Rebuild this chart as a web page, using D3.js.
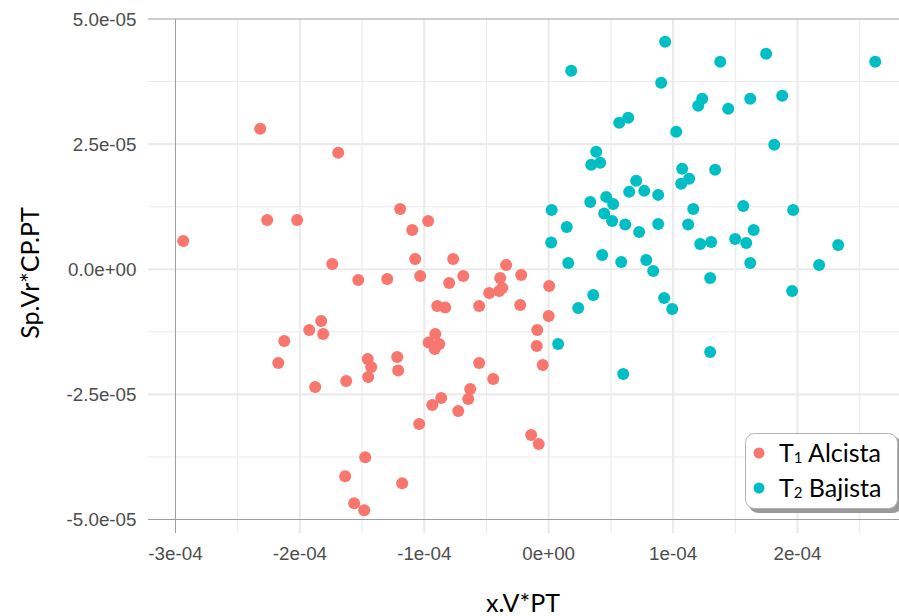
<!DOCTYPE html>
<html>
<head>
<meta charset="utf-8">
<script src="https://cdn.jsdelivr.net/npm/d3@7"></script>
<style>
  html, body { margin: 0; padding: 0; background: #ffffff; }
  svg { display: block; }
</style>
</head>
<body>
<svg id="chart" width="899" height="616"></svg>
<script>
// Group T1 (Alcista)
const alcistaX = [-2.938e-4, -2.319e-4, -1.692e-4, -2.263e-4, -2.022e-4, -1.194e-4, -1.097e-4, -0.969e-4,
  -1.740e-4, -1.531e-4, -1.298e-4, -1.073e-4, -1.033e-4, -0.768e-4, -0.800e-4, -0.896e-4, -0.832e-4,
  -1.829e-4, -1.925e-4, -1.813e-4, -2.126e-4, -2.174e-4, -0.912e-4, -0.965e-4, -0.880e-4, -0.916e-4,
  -1.455e-4, -1.427e-4, -1.451e-4, -1.218e-4, -1.210e-4, -1.628e-4, -1.877e-4, -0.864e-4, -0.936e-4,
  -1.041e-4, -1.475e-4, -1.636e-4, -1.178e-4, -1.564e-4, -1.483e-4, -0.687e-4, -0.342e-4, -0.390e-4,
  -0.221e-4, -0.374e-4, -0.398e-4, -0.478e-4, 0.004e-4, -0.559e-4, -0.229e-4, 0.000e-4, -0.092e-4,
  -0.096e-4, -0.048e-4, -0.559e-4, -0.446e-4, -0.631e-4, -0.647e-4, -0.727e-4, -0.141e-4, -0.080e-4];
const alcistaY = [0.566e-5, 2.806e-5, 2.326e-5, 0.986e-5, 0.986e-5, 1.206e-5, 0.786e-5, 0.966e-5,
  0.106e-5, -0.214e-5, -0.194e-5, 0.206e-5, -0.134e-5, 0.206e-5, -0.274e-5, -0.734e-5, -0.764e-5,
  -1.034e-5, -1.214e-5, -1.294e-5, -1.434e-5, -1.874e-5, -1.294e-5, -1.464e-5, -1.494e-5, -1.594e-5,
  -1.794e-5, -1.954e-5, -2.154e-5, -1.754e-5, -2.024e-5, -2.234e-5, -2.354e-5, -2.574e-5, -2.714e-5,
  -3.094e-5, -3.754e-5, -4.134e-5, -4.274e-5, -4.674e-5, -4.814e-5, -0.134e-5, 0.086e-5, -0.174e-5,
  -0.114e-5, -0.374e-5, -0.434e-5, -0.474e-5, -0.334e-5, -0.734e-5, -0.714e-5, -0.934e-5, -1.214e-5,
  -1.534e-5, -1.914e-5, -1.874e-5, -2.194e-5, -2.394e-5, -2.594e-5, -2.834e-5, -3.314e-5, -3.494e-5];

// Group T2 (Bajista)
const bajistaX = [0.936e-4, 0.181e-4, 1.379e-4, 1.748e-4, 2.625e-4, 0.904e-4, 1.234e-4, 1.202e-4,
  1.443e-4, 1.620e-4, 1.877e-4, 0.639e-4, 0.567e-4, 1.025e-4, 1.813e-4, 0.382e-4, 0.414e-4, 0.342e-4,
  1.073e-4, 1.129e-4, 1.065e-4, 1.338e-4, 0.703e-4, 0.647e-4, 0.768e-4, 0.880e-4, 0.334e-4, 0.462e-4,
  0.518e-4, 0.446e-4, 0.510e-4, 0.615e-4, 0.727e-4, 0.880e-4, 1.162e-4, 1.121e-4, 1.564e-4, 1.648e-4,
  1.965e-4, 0.024e-4, 0.145e-4, 0.020e-4, 0.157e-4, 0.430e-4, 0.583e-4, 0.784e-4, 0.840e-4, 1.218e-4,
  1.306e-4, 1.499e-4, 1.588e-4, 1.620e-4, 2.174e-4, 2.327e-4, 1.298e-4, 1.957e-4, 0.358e-4, 0.237e-4,
  0.928e-4, 0.993e-4, 0.076e-4, 1.298e-4, 0.599e-4];
const bajistaY = [4.546e-5, 3.966e-5, 4.146e-5, 4.306e-5, 4.146e-5, 3.726e-5, 3.406e-5, 3.266e-5,
  3.206e-5, 3.406e-5, 3.466e-5, 3.026e-5, 2.926e-5, 2.746e-5, 2.486e-5, 2.346e-5, 2.126e-5, 2.086e-5,
  2.006e-5, 1.806e-5, 1.706e-5, 1.986e-5, 1.766e-5, 1.546e-5, 1.566e-5, 1.486e-5, 1.346e-5, 1.446e-5,
  1.306e-5, 1.116e-5, 0.966e-5, 0.896e-5, 0.746e-5, 0.906e-5, 1.206e-5, 0.896e-5, 1.266e-5, 0.786e-5,
  1.186e-5, 1.186e-5, 0.846e-5, 0.536e-5, 0.126e-5, 0.286e-5, 0.146e-5, 0.186e-5, -0.034e-5, 0.506e-5,
  0.546e-5, 0.606e-5, 0.526e-5, 0.126e-5, 0.086e-5, 0.486e-5, -0.174e-5, -0.434e-5, -0.514e-5, -0.774e-5,
  -0.574e-5, -0.794e-5, -1.494e-5, -1.654e-5, -2.094e-5];

const xTicks = [-3e-4, -2e-4, -1e-4, 0, 1e-4, 2e-4];
const xTickLabels = ["-3e-04", "-2e-04", "-1e-04", "0e+00", "1e-04", "2e-04"];
const xMinor = [-2.5e-4, -1.5e-4, -0.5e-4, 0.5e-4, 1.5e-4, 2.5e-4];
const yTicks = [-5e-5, -2.5e-5, 0, 2.5e-5, 5e-5];
const yTickLabels = ["-5.0e-05", "-2.5e-05", "0.0e+00", "2.5e-05", "5.0e-05"];
const yMinor = [-3.75e-5, -1.25e-5, 1.25e-5, 3.75e-5];

const seriesNames = ["Alcista", "Bajista"];
const seriesSubs = ["1", "2"];
const seriesColors = ["#F8766D", "#00BFC4"];

const svg = d3.select("#chart");
const panel = { left: 148, right: 899, top: 19, bottom: 533 };

const x = d3.scaleLinear().domain([-3e-4, 2e-4]).range([175.5, 797.5]);
const y = d3.scaleLinear().domain([-5e-5, 5e-5]).range([519.5, 19]);

const grid = svg.append("g");
// minor grid
grid.selectAll(".xminor").data(xMinor).enter().append("line")
  .attr("x1", d => x(d)).attr("x2", d => x(d))
  .attr("y1", panel.top).attr("y2", panel.bottom)
  .attr("stroke", "#ebebeb").attr("stroke-width", 1.1);
grid.selectAll(".yminor").data(yMinor).enter().append("line")
  .attr("y1", d => y(d)).attr("y2", d => y(d))
  .attr("x1", panel.left).attr("x2", panel.right)
  .attr("stroke", "#ebebeb").attr("stroke-width", 1.1);
// major grid
grid.selectAll(".xmajor").data(xTicks.slice(1)).enter().append("line")
  .attr("x1", d => x(d)).attr("x2", d => x(d))
  .attr("y1", panel.top).attr("y2", panel.bottom)
  .attr("stroke", "#ebebeb").attr("stroke-width", 2.2);
grid.selectAll(".ymajor").data(yTicks.slice(1, 4)).enter().append("line")
  .attr("y1", d => y(d)).attr("y2", d => y(d))
  .attr("x1", panel.left).attr("x2", panel.right)
  .attr("stroke", "#ebebeb").attr("stroke-width", 2.2);

// reference lines at the panel limits
const refs = svg.append("g").attr("stroke", "#9e9e9e").attr("stroke-width", 1);
refs.append("line").attr("x1", x(-3e-4)).attr("x2", x(-3e-4))
  .attr("y1", panel.top).attr("y2", panel.bottom);
[5e-5, -5e-5].forEach(v => {
  refs.append("line").attr("x1", panel.left).attr("x2", panel.right)
    .attr("y1", y(v)).attr("y2", y(v));
});

// tick labels
const tickFont = "'Liberation Sans', Arial, sans-serif";
svg.append("g").selectAll("text").data(yTicks).enter().append("text")
  .attr("x", 136.5).attr("y", d => y(d)).attr("dy", "0.36em")
  .attr("text-anchor", "end")
  .attr("font-family", tickFont).attr("font-size", 18.8).attr("fill", "#4d4d4d")
  .text((d, i) => yTickLabels[i]);
svg.append("g").selectAll("text").data(xTicks).enter().append("text")
  .attr("x", d => x(d)).attr("y", 560)
  .attr("text-anchor", "middle")
  .attr("font-family", tickFont).attr("font-size", 18.8).attr("fill", "#4d4d4d")
  .text((d, i) => xTickLabels[i]);

// axis titles
const titleFont = "Lato, 'Open Sans', sans-serif";
svg.append("text").attr("x", 523).attr("y", 612).attr("text-anchor", "middle")
  .attr("font-family", titleFont).attr("font-size", 25).attr("fill", "#000")
  .text("x.V*PT");
svg.append("text").attr("transform", "translate(39,273) rotate(-90)")
  .attr("text-anchor", "middle")
  .attr("font-family", titleFont).attr("font-size", 25).attr("fill", "#000")
  .text("Sp.Vr*CP.PT");

// points
const groups = [
  { xs: alcistaX, ys: alcistaY, color: seriesColors[0] },
  { xs: bajistaX, ys: bajistaY, color: seriesColors[1] }
];
groups.forEach(g => {
  svg.append("g").selectAll("circle").data(d3.range(g.xs.length)).enter().append("circle")
    .attr("cx", i => x(g.xs[i])).attr("cy", i => y(g.ys[i]))
    .attr("r", 6).attr("fill", g.color);
});

// legend
const lg = svg.append("g");
lg.append("rect").attr("x", 749).attr("y", 437).attr("width", 153).attr("height", 76)
  .attr("rx", 9).attr("fill", "#9a9a9a");
lg.append("rect").attr("x", 745.5).attr("y", 433.5).attr("width", 152).attr("height", 75)
  .attr("rx", 9).attr("fill", "#ffffff").attr("stroke", "#b3b3b3").attr("stroke-width", 1);
seriesNames.forEach((name, i) => {
  const cy = 453 + i * 35;
  lg.append("circle").attr("cx", 759).attr("cy", cy).attr("r", 5.5).attr("fill", seriesColors[i]);
  const t = lg.append("text").attr("x", 779).attr("y", cy + 8.5)
    .attr("font-family", titleFont).attr("font-size", 25).attr("fill", "#000");
  t.append("tspan").text("T");
  t.append("tspan").attr("font-size", 15).attr("dy", 1).text(seriesSubs[i]);
  t.append("tspan").attr("dy", -1).text(" " + name);
});
</script>
</body>
</html>
